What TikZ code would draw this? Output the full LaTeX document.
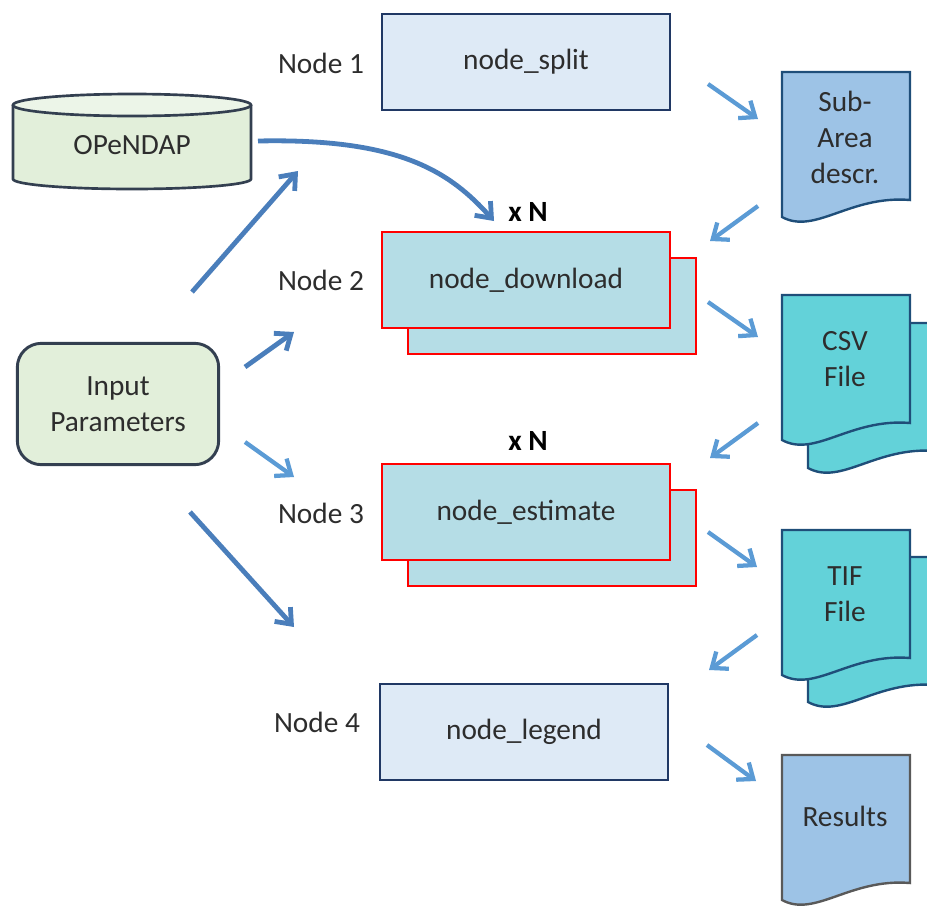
\documentclass[tikz,border=0pt]{standalone}
\usepackage{fontspec}
\setmainfont{Carlito}
\usetikzlibrary{arrows.meta}

\definecolor{darkarr}{RGB}{74,126,187}
\definecolor{lightarr}{RGB}{91,155,213}
\definecolor{navy}{RGB}{32,56,100}
\definecolor{splitfill}{RGB}{222,234,246}
\definecolor{jobfill}{RGB}{181,221,230}
\definecolor{greenfill}{RGB}{226,239,218}
\definecolor{greentop}{RGB}{236,245,232}
\definecolor{greenline}{RGB}{51,63,80}
\definecolor{docblue}{RGB}{157,195,230}
\definecolor{docteal}{RGB}{99,210,217}
\definecolor{docline}{RGB}{31,78,121}
\definecolor{docgray}{RGB}{89,89,89}
\definecolor{txt}{RGB}{45,45,45}

\tikzset{
  stagebox/.style={draw=navy, line width=2.2pt, fill=splitfill, minimum width=216pt, minimum height=72pt},
  jobbox/.style={draw=red, line width=2.2pt, fill=jobfill, minimum width=216pt, minimum height=72pt},
  darkline/.style={draw=darkarr, line width=3.6pt, -{Straight Barb[length=10pt,width=16pt]}},
  lightline/.style={draw=lightarr, line width=3.2pt, -{Straight Barb[length=10pt,width=16pt]}},
  docbody/.style={line width=1.8pt, draw=docline},
}

\begin{document}
\begin{tikzpicture}[x=0.75pt,y=0.75pt,yscale=-1,xscale=1,
  font=\fontsize{22}{27}\selectfont, text=txt]

\useasboundingbox (0,0) rectangle (927,907);
\clip (0,0) rectangle (927,907);

% source and parameters
\draw [line width=2pt, draw=greenline, fill=greenfill] (13,105) -- (13,179)
  arc [start angle=180, end angle=0, x radius=119, y radius=10] -- (251,105);
\draw [line width=2pt, draw=greenline, fill=greentop] (132,105) ellipse [x radius=119, y radius=11];
\node (opendap) at (132,145) {OPeNDAP};

\node [draw=greenline, line width=2.2pt, fill=greenfill, rounded corners=18pt,
  minimum width=151pt, minimum height=91pt, align=center] (params) at (118,404) {Input\\Parameters};

% the four stages
\node [stagebox] (split) at (526,62) {node\_split};
\node [jobbox] (downloadback) at (552,306) {};
\node [jobbox] (download) at (526,280) {node\_download};
\node [jobbox] (estimateback) at (552,538) {};
\node [jobbox] (estimate) at (526,512) {node\_estimate};
\node [stagebox] (legend) at (524,732) {node\_legend};

\node (lab1) at (321,63) {Node 1};
\node (lab2) at (321,280) {Node 2};
\node (lab3) at (321,513) {Node 3};
\node (lab4) at (317,722) {Node 4};
\node [font=\fontsize{22}{27}\selectfont\bfseries, text=black] (rep1) at (528,212) {x N};
\node [font=\fontsize{22}{27}\selectfont\bfseries, text=black] (rep2) at (528,441) {x N};

% documents on the right
\foreach \x/\y/\col/\lin in {782/72/docblue/docline, 808/323/docteal/docline, 782/295/docteal/docline,
  808/557/docteal/docline, 782/530/docteal/docline, 782/755/docblue/docgray}
  \draw [docbody, fill=\col, draw=\lin] (\x,\y) -- ++(128,0) -- ++(0,128)
    .. controls +(-60,-5) and +(33,18) .. ++(-128,17) -- cycle;

\node [align=center] (subarea) at (845,137) {Sub-\\Area\\descr.};
\node [align=center] (csv) at (845,359) {CSV\\File};
\node [align=center] (tif) at (845,594) {TIF\\File};
\node (results) at (845,816) {Results};

% arrows
\coordinate (opendapout) at (258,141);
\coordinate (downloadin) at (494,221);
\draw [darkline] (opendapout) .. controls (400,138) and (450,172) .. (downloadin);

\foreach \n/\xa/\ya/\xb/\yb/\sty in {p1/192/292/298/171/darkline, p2/245/367/294/332/darkline,
  p3/245/442/294/477/lightline, p4/190/512/294/627/darkline,
  r1/708/84/758/119/lightline, r2/758/206/710/241/lightline,
  r3/708/302/758/337/lightline, r4/758/423/710/458/lightline,
  r5/708/532/757/567/lightline, r6/757/635/709/670/lightline,
  r7/707/745/756/781/lightline}
{
  \coordinate (\n s) at (\xa,\ya);
  \coordinate (\n e) at (\xb,\yb);
  \draw [\sty] (\n s) -- (\n e);
}

\end{tikzpicture}
\end{document}
